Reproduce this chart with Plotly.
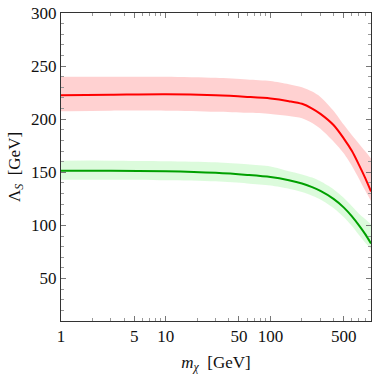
import plotly.graph_objects as go

m_chi = [1, 3, 10, 30, 60, 100, 150, 200, 250, 300, 400, 500, 600, 700, 800, 912]
red_mid = [222.5, 223, 223.5, 222.5, 221, 219.5, 217, 214.5, 210, 205, 194.5, 182, 170, 157, 145, 132]
red_up = [240, 240, 240, 239, 237.5, 236, 233, 230, 226, 221, 208, 195, 185, 177, 170, 163]
red_lo = [207.5, 208, 208, 207, 206, 205, 203, 201, 196.5, 191, 179, 168, 156, 144, 133, 123]
grn_mid = [151.5, 151.5, 151, 149.5, 147.5, 145.5, 142.5, 139.5, 136, 132.5, 125, 117, 108.5, 100, 92, 83]
grn_up = [161, 161, 160.5, 159.5, 157.5, 155.5, 151, 148, 145, 141.5, 134, 126, 118, 111, 106, 101]
grn_lo = [143, 143, 142.5, 141.5, 139.5, 137.5, 134.5, 131.5, 128, 124.5, 116.5, 108, 99.5, 91, 84, 78]

x_ticks = [1, 5, 10, 50, 100, 500]
x_minor = [2, 3, 4, 6, 7, 8, 9, 20, 30, 40, 60, 70, 80, 90, 200, 300, 400, 600, 700, 800, 900]
y_ticks = [50, 100, 150, 200, 250, 300]

fig = go.Figure()

def band(up, lo, color):
    fig.add_trace(go.Scatter(x=m_chi, y=up, mode="lines", line=dict(width=0, shape="spline", smoothing=0.8),
                             showlegend=False, hoverinfo="skip"))
    fig.add_trace(go.Scatter(x=m_chi, y=lo, mode="lines", line=dict(width=0, shape="spline", smoothing=0.8),
                             fill="tonexty", fillcolor=color, showlegend=False, hoverinfo="skip"))

band(red_up, red_lo, "rgba(255,0,0,0.18)")
band(grn_up, grn_lo, "rgba(40,230,40,0.16)")
fig.add_trace(go.Scatter(x=m_chi, y=red_mid, mode="lines",
                         line=dict(color="#ff0000", width=2, shape="spline", smoothing=0.8), showlegend=False))
fig.add_trace(go.Scatter(x=m_chi, y=grn_mid, mode="lines",
                         line=dict(color="#00a000", width=2, shape="spline", smoothing=0.8), showlegend=False))

serif = "Liberation Serif, Times New Roman, serif"
font = dict(family=serif, size=17, color="#111")
fig.update_layout(
    width=374, height=380,
    margin=dict(l=61, r=3, t=13, b=59, autoexpand=False),
    paper_bgcolor="white", plot_bgcolor="white",
    font=font,
    xaxis=dict(type="log", range=[0, 2.96], tickmode="array", tickvals=x_ticks,
               ticktext=[str(v) for v in x_ticks], automargin=False, tickfont=font,
               ticks="inside", ticklen=5, tickcolor="#777", showgrid=False, zeroline=False,
               showline=True, linecolor="#333", linewidth=1, mirror="ticks",
               minor=dict(ticks="inside", ticklen=3, tickvals=x_minor, tickcolor="#999", showgrid=False),
               title=dict(text="<i>m</i><sub><i>χ</i></sub>  [GeV]", font=font, standoff=10)),
    yaxis=dict(range=[10, 300], tickmode="array", tickvals=y_ticks, automargin=False, tickfont=font,
               ticks="inside", ticklen=5, tickcolor="#777", showgrid=False, zeroline=False,
               showline=True, linecolor="#333", linewidth=1, mirror="ticks",
               minor=dict(ticks="inside", ticklen=3, dtick=10, tickcolor="#999", showgrid=False),
               title=dict(text="Λ<sub><i>S</i></sub>  [GeV]", font=font, standoff=6)),
)

fig.write_html("out.html", config={"displayModeBar": False},
               post_script="document.body.style.margin='0';document.body.style.overflow='hidden';")
